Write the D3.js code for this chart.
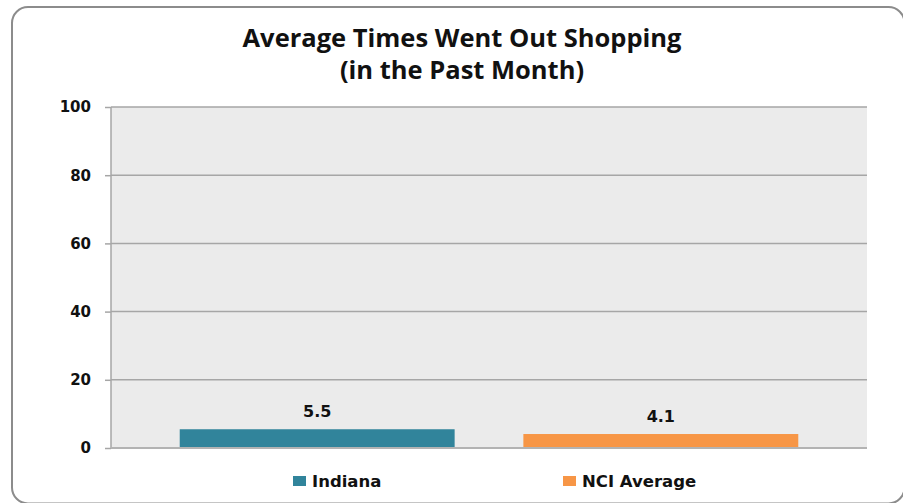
<!DOCTYPE html>
<html>
<head>
<meta charset="utf-8">
<script src="https://cdn.jsdelivr.net/npm/d3@7"></script>
<style>
  html, body { margin: 0; padding: 0; background: #fff; }
  svg { display: block; }
</style>
</head>
<body>
<div id="chart"></div>
<script>
const titleLines = ['Average Times Went Out Shopping', '(in the Past Month)'];
const series = ['Indiana', 'NCI Average'];
const values = [5.5, 4.1];
const colors = ['#31849b', '#f79646'];
const yTicks = [0, 20, 40, 60, 80, 100];

const chartWidth = 903;
const chartHeight = 503;
const margin = { top: 107, right: 36, bottom: 55, left: 111 };
const width = chartWidth - margin.left - margin.right;
const height = chartHeight - margin.top - margin.bottom;

const svg = d3.select('#chart')
    .append('svg')
    .attr('width', chartWidth)
    .attr('height', chartHeight);

// outer frame, right and bottom edges fall just outside the picture
svg.append('rect')
    .attr('x', 12)
    .attr('y', 7)
    .attr('width', 892.5)
    .attr('height', 496.5)
    .attr('rx', 16)
    .attr('fill', '#fff')
    .attr('stroke', '#8c8c8c')
    .attr('stroke-width', 2);

const title = svg.append('text')
    .attr('x', 462)
    .attr('y', 47)
    .attr('text-anchor', 'middle')
    .attr('font-family', 'Open Sans, sans-serif')
    .attr('font-size', '25.5px')
    .attr('font-weight', 'bold')
    .attr('fill', '#111');
titleLines.forEach((line, i) => {
    title.append('tspan')
        .attr('x', 462)
        .attr('dy', i === 0 ? 0 : 32)
        .text(line);
});

const g = svg.append('g')
    .attr('transform', `translate(${margin.left}, ${margin.top})`);

const x = d3.scaleBand()
    .domain(series)
    .range([0, width])
    .padding(0.2);

const y = d3.scaleLinear()
    .domain([0, 100])
    .range([height, 0]);

g.append('rect')
    .attr('width', width)
    .attr('height', height)
    .attr('fill', '#ebebeb');

const yAxis = g.append('g')
    .call(d3.axisLeft(y).tickValues(yTicks).tickSize(6).tickPadding(14));
yAxis.select('.domain').remove();
yAxis.selectAll('.tick line')
    .attr('stroke', '#a6a6a6')
    .attr('stroke-width', 1.5);
yAxis.selectAll('.tick text')
    .attr('font-family', 'DejaVu Sans, sans-serif')
    .attr('font-size', '15px')
    .attr('font-weight', 'bold')
    .attr('fill', '#111');

g.selectAll('.grid')
    .data(yTicks.filter(d => d > 0))
    .enter()
    .append('line')
    .attr('class', 'grid')
    .attr('x1', 0)
    .attr('x2', width)
    .attr('y1', d => y(d))
    .attr('y2', d => y(d))
    .attr('stroke', '#a6a6a6')
    .attr('stroke-width', 1.5);

g.append('line')
    .attr('x1', 0)
    .attr('x2', 0)
    .attr('y1', 0)
    .attr('y2', height)
    .attr('stroke', '#a6a6a6')
    .attr('stroke-width', 1.5);

g.selectAll('.bar')
    .data(values)
    .enter()
    .append('rect')
    .attr('class', 'bar')
    .attr('x', (d, i) => x(series[i]))
    .attr('y', d => y(d))
    .attr('width', x.bandwidth())
    .attr('height', d => height - y(d))
    .attr('fill', (d, i) => colors[i]);

g.append('line')
    .attr('x1', 0)
    .attr('x2', width)
    .attr('y1', height)
    .attr('y2', height)
    .attr('stroke', '#b3b3b3')
    .attr('stroke-width', 2);

g.selectAll('.value')
    .data(values)
    .enter()
    .append('text')
    .attr('class', 'value')
    .attr('x', (d, i) => x(series[i]) + x.bandwidth() / 2)
    .attr('y', d => y(d) - 12)
    .attr('text-anchor', 'middle')
    .attr('font-family', 'DejaVu Sans, sans-serif')
    .attr('font-size', '16px')
    .attr('font-weight', 'bold')
    .attr('fill', '#111')
    .text(d => d.toFixed(1));

// legend
const legendX = [293, 563];
const legend = svg.selectAll('.legend')
    .data(series)
    .enter()
    .append('g')
    .attr('class', 'legend')
    .attr('transform', (d, i) => `translate(${legendX[i]}, 476)`);

legend.append('rect')
    .attr('width', 13)
    .attr('height', 10)
    .attr('fill', (d, i) => colors[i]);

legend.append('text')
    .attr('x', 19)
    .attr('y', 11)
    .attr('font-family', 'DejaVu Sans, sans-serif')
    .attr('font-size', '16.5px')
    .attr('font-weight', 'bold')
    .attr('fill', '#111')
    .text(d => d);
</script>
</body>
</html>
